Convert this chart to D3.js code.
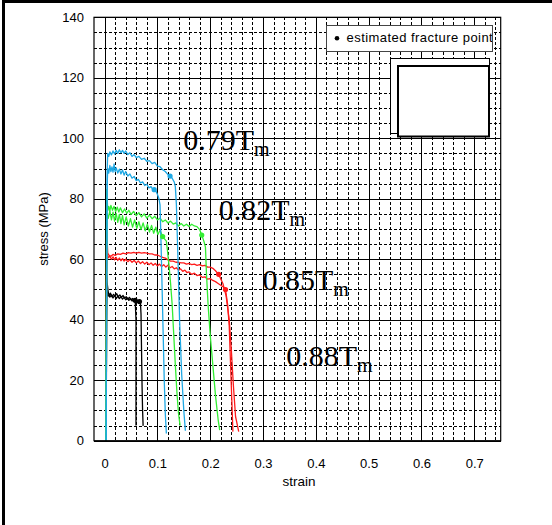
<!DOCTYPE html>
<html>
<head>
<meta charset="utf-8">
<script src="https://cdn.jsdelivr.net/npm/d3@7"></script>
<style>
body { margin: 0; background: #fff; }
svg { display: block; }
</style>
</head>
<body>
<div id="main"></div>
<script>
const w = 552, h = 525

// axis values
const xTicks = [0, 0.1, 0.2, 0.3, 0.4, 0.5, 0.6, 0.7]
const xTickLabels = ['0', '0.1', '0.2', '0.3', '0.4', '0.5', '0.6', '0.7']
const yTicks = [0, 20, 40, 60, 80, 100, 120, 140]

// stress-strain curves [strain, stress MPa]
const blueHigh = [[0.003,0],[0.004,60],[0.005,90],[0.006,95],[0.008,94],[0.010,95.5],[0.013,94.5],[0.016,95.8],[0.019,94.8],[0.022,96],[0.025,95],[0.028,96.2],[0.031,95.2],[0.034,96],[0.037,95],[0.040,95.8],[0.044,94.6],[0.048,95.2],[0.052,94],[0.056,94.6],[0.060,93.6],[0.065,94],[0.070,93],[0.075,93.4],[0.080,92.4],[0.085,92.6],[0.090,91.6],[0.095,92],[0.100,90.8],[0.105,90.6],[0.110,89.6],[0.115,89],[0.120,88],[0.124,87.5],[0.128,86.8],[0.132,85.5],[0.134,84],[0.136,78],[0.139,60],[0.142,40],[0.146,22],[0.150,10],[0.153,3.3]]
const blueLow = [[0.003,0],[0.004,50],[0.005,85],[0.006,90],[0.008,88.5],[0.010,91],[0.012,89],[0.014,90.5],[0.016,88.8],[0.018,91.5],[0.020,89],[0.022,90.2],[0.025,88.5],[0.028,89.8],[0.031,88.2],[0.034,89.5],[0.037,87.8],[0.040,89],[0.044,87.5],[0.048,88.2],[0.052,86.8],[0.056,87.4],[0.060,86],[0.064,86.4],[0.068,85.2],[0.072,85.6],[0.076,84.4],[0.080,84.8],[0.084,83.6],[0.088,84],[0.092,82.8],[0.096,83],[0.100,81.5],[0.103,80],[0.105,78],[0.107,65],[0.109,50],[0.111,35],[0.113,20],[0.115,9],[0.117,2.4]]
const greenHigh = [[0.002,0],[0.003,40],[0.004,83],[0.005,80],[0.006,76],[0.008,77.5],[0.010,76],[0.012,77.8],[0.015,76.2],[0.018,77.5],[0.021,75.8],[0.024,77.2],[0.027,75.6],[0.030,77],[0.034,75.4],[0.038,76.6],[0.042,75.2],[0.046,76.2],[0.050,74.8],[0.055,75.8],[0.060,74.4],[0.065,75.4],[0.070,74],[0.075,75],[0.080,73.6],[0.085,74.6],[0.090,73.4],[0.095,74.2],[0.100,73],[0.105,73.6],[0.110,72.4],[0.115,73],[0.120,72],[0.125,72.6],[0.130,71.6],[0.135,72],[0.140,71],[0.145,71.8],[0.150,71],[0.155,71.6],[0.160,70.8],[0.165,71.6],[0.170,71],[0.175,70.8],[0.180,69.8],[0.184,68],[0.188,66],[0.191,64],[0.193,55],[0.196,45],[0.200,35],[0.205,25],[0.210,15],[0.215,7],[0.218,3.5]]
const greenLow = [[0.003,0],[0.004,50],[0.005,75],[0.007,73.5],[0.010,76],[0.013,73],[0.016,75.6],[0.019,72.6],[0.022,75.2],[0.025,72.2],[0.028,74.8],[0.031,71.8],[0.034,74.4],[0.037,71.4],[0.041,74],[0.045,71],[0.049,73.4],[0.053,70.6],[0.057,73],[0.061,70.2],[0.065,72.4],[0.069,69.8],[0.073,72],[0.077,69.4],[0.081,71.6],[0.085,69],[0.089,71.2],[0.093,68.6],[0.097,70.6],[0.101,68.2],[0.105,69.6],[0.110,67.5],[0.113,66.8],[0.117,66],[0.119,63],[0.122,58],[0.125,52],[0.128,45],[0.131,35],[0.134,25],[0.137,16],[0.140,9],[0.143,5]]
const redHigh = [[0.002,0],[0.003,40],[0.004,70],[0.005,66],[0.006,62],[0.008,61.4],[0.012,61],[0.016,61.6],[0.020,61.3],[0.025,61.8],[0.030,61.6],[0.035,62],[0.040,61.8],[0.045,62.2],[0.050,62],[0.055,62.3],[0.060,62],[0.065,62.3],[0.070,62],[0.075,62.2],[0.080,62],[0.085,61.8],[0.090,61.8],[0.095,61.4],[0.100,61.4],[0.105,61],[0.110,60.6],[0.115,60.4],[0.120,59.8],[0.125,59.4],[0.130,59.4],[0.135,59],[0.140,59],[0.145,58.8],[0.150,58.8],[0.155,58.4],[0.160,58.6],[0.165,58.2],[0.170,58.4],[0.175,58],[0.180,58.2],[0.185,57.8],[0.190,58],[0.195,57.4],[0.200,57.4],[0.205,57],[0.210,56.2],[0.216,55],[0.224,52],[0.230,48],[0.236,40],[0.240,30],[0.244,18],[0.248,8],[0.254,3]]
const redLow = [[0.003,0],[0.004,55],[0.005,62],[0.007,60.5],[0.010,61],[0.013,60],[0.016,60.8],[0.019,59.8],[0.022,60.6],[0.025,59.6],[0.028,60.4],[0.031,59.5],[0.034,60.2],[0.037,59.4],[0.040,60],[0.044,59.2],[0.048,59.8],[0.052,59],[0.056,59.6],[0.060,58.8],[0.064,59.4],[0.068,58.6],[0.072,59.2],[0.076,58.4],[0.080,59],[0.084,58.2],[0.088,58.8],[0.092,58],[0.096,58.6],[0.100,57.8],[0.104,58.4],[0.108,57.6],[0.112,58.2],[0.116,57.4],[0.120,58],[0.124,57.2],[0.128,57.6],[0.132,56.8],[0.136,57.2],[0.140,56.4],[0.144,56.8],[0.148,56],[0.152,56.4],[0.156,55.6],[0.160,55.8],[0.165,55],[0.170,55.4],[0.175,54.6],[0.180,54.8],[0.185,54],[0.190,54.2],[0.195,53.4],[0.200,53.6],[0.205,53],[0.210,52.6],[0.215,52],[0.220,51.4],[0.225,50.8],[0.229,50],[0.233,45],[0.236,38],[0.238,28],[0.240,18],[0.242,8],[0.243,3]]
const blackLong = [[0.003,0],[0.004,45],[0.005,50],[0.007,48],[0.010,47.5],[0.013,48.2],[0.016,47.2],[0.019,48],[0.022,47],[0.025,47.8],[0.028,47],[0.031,47.6],[0.034,46.8],[0.037,47.4],[0.040,46.6],[0.043,47.2],[0.046,46.4],[0.049,47],[0.052,46.2],[0.055,46.8],[0.058,46],[0.061,46.4],[0.064,45.8],[0.066,46],[0.068,45.4],[0.069,42],[0.070,30],[0.071,18],[0.072,10],[0.073,4.9]]
const blackShort = [[0.002,0],[0.003,30],[0.004,55],[0.005,52],[0.007,49],[0.009,48],[0.011,48.8],[0.014,47.6],[0.017,48.4],[0.020,47.8],[0.023,48.6],[0.026,47.6],[0.029,48.2],[0.032,47.4],[0.035,48],[0.038,47.2],[0.041,47.6],[0.044,46.8],[0.047,47.4],[0.050,46.6],[0.053,47],[0.056,46.2],[0.058,46.4],[0.0595,40],[0.0595,20],[0.0595,5]]

// estimated fracture points [strain, stress]
const fractureBlue = [[0.124,87.5],[0.094,83]]
const fractureGreen = [[0.184,68],[0.110,67.5]]
const fractureRed = [[0.216,55],[0.229,50]]
const fractureBlack = [[0.066,46],[0.058,46.4]]

// temperature labels
const tempLabels = ['0.79', '0.82', '0.85', '0.88']
const tempLabelAt = [[0.149,96.2],[0.216,73],[0.299,49.8],[0.344,24.6]]

const colors = { blue: '#1ea8e4', green: '#33ee33', red: '#ff1a1a', black: '#000' }

const series = [
    { data: blackShort, color: colors.black },
    { data: blackLong, color: colors.black },
    { data: redLow, color: colors.red },
    { data: redHigh, color: colors.red },
    { data: greenLow, color: colors.green },
    { data: greenHigh, color: colors.green },
    { data: blueLow, color: colors.blue },
    { data: blueHigh, color: colors.blue }
]
const fractures = [
    { data: fractureBlack, color: colors.black },
    { data: fractureRed, color: colors.red },
    { data: fractureGreen, color: colors.green },
    { data: fractureBlue, color: colors.blue }
]

const pLeft = 94, pRight = 500.7, pTop = 17.3, pBottom = 440.7

const svg = d3.select('#main')
            .append('svg')
            .attr('width', w)
            .attr('height', h)

svg.append('rect').attr('width', w).attr('height', h).attr('fill', '#fff')

const xScale = d3.scaleLinear().domain([-0.02, 0.75]).range([pLeft, pRight])
const yScale = d3.scaleLinear().domain([0, 140]).range([pBottom, pTop])

// minor dashed grid
const grid = svg.append('g').attr('shape-rendering', 'crispEdges')
const xMinor = d3.range(0, 38).map(i => i * 0.02).filter((v, i) => i % 5 !== 0)
const yMinor = d3.range(1, 28).map(i => i * 5).filter(v => v % 20 !== 0)
grid.selectAll('.xminor')
    .data(xMinor)
    .enter()
    .append('line')
    .attr('x1', d => Math.round(xScale(d)) + 0.5)
    .attr('x2', d => Math.round(xScale(d)) + 0.5)
    .attr('y1', pTop)
    .attr('y2', pBottom)
    .attr('stroke', '#000')
    .attr('stroke-dasharray', '3,2')
grid.selectAll('.yminor')
    .data(yMinor)
    .enter()
    .append('line')
    .attr('x1', pLeft)
    .attr('x2', pRight)
    .attr('y1', d => Math.round(yScale(d)) + 0.5)
    .attr('y2', d => Math.round(yScale(d)) + 0.5)
    .attr('stroke', '#000')
    .attr('stroke-dasharray', '3,2')
// major solid grid
grid.selectAll('.xmajor')
    .data(xTicks)
    .enter()
    .append('line')
    .attr('x1', d => Math.round(xScale(d)) + 0.5)
    .attr('x2', d => Math.round(xScale(d)) + 0.5)
    .attr('y1', pTop)
    .attr('y2', pBottom)
    .attr('stroke', '#000')
grid.selectAll('.ymajor')
    .data(yTicks)
    .enter()
    .append('line')
    .attr('x1', pLeft)
    .attr('x2', pRight)
    .attr('y1', d => Math.round(yScale(d)) + 0.5)
    .attr('y2', d => Math.round(yScale(d)) + 0.5)
    .attr('stroke', '#000')

// curves
svg.append('clipPath').attr('id', 'plot')
    .append('rect')
    .attr('x', pLeft).attr('y', pTop)
    .attr('width', pRight - pLeft).attr('height', pBottom - pTop)

const line = d3.line()
            .x(d => xScale(d[0]))
            .y(d => yScale(d[1]))

const curves = svg.append('g').attr('clip-path', 'url(#plot)')
curves.selectAll('path')
    .data(series)
    .enter()
    .append('path')
    .attr('d', d => line(d.data))
    .attr('fill', 'none')
    .attr('stroke', d => d.color)
    .attr('stroke-width', 1.3)
    .attr('stroke-linejoin', 'round')

fractures.forEach(f => {
    curves.selectAll(null)
        .data(f.data)
        .enter()
        .append('circle')
        .attr('cx', d => xScale(d[0]))
        .attr('cy', d => yScale(d[1]))
        .attr('r', 2.6)
        .attr('fill', f.color)
})

// frame
svg.append('rect')
    .attr('x', pLeft).attr('y', pTop)
    .attr('width', pRight - pLeft).attr('height', pBottom - pTop)
    .attr('fill', 'none')
    .attr('stroke', '#000')
    .attr('stroke-width', 1.2)

// axes
const xAxis = d3.axisBottom(xScale)
                .tickValues(xTicks)
                .tickFormat((d, i) => xTickLabels[i])
                .tickSize(0)
                .tickPadding(18)
const xLine = svg.append('g')
                .attr('transform', 'translate(0,' + pBottom + ')')
                .call(xAxis)
xLine.select('.domain').remove()

const yAxis = d3.axisLeft(yScale)
                .tickValues(yTicks)
                .tickSize(0)
                .tickPadding(10)
const yLine = svg.append('g')
                .attr('transform', 'translate(' + pLeft + ',0)')
                .call(yAxis)
yLine.select('.domain').remove()

svg.selectAll('.tick text')
    .attr('font-family', 'Liberation Sans, Arial, sans-serif')
    .attr('font-size', 13)
    .attr('fill', '#000')

svg.append('text')
    .text('strain')
    .attr('x', 299)
    .attr('y', 486)
    .attr('text-anchor', 'middle')
    .attr('font-family', 'Liberation Sans, Arial, sans-serif')
    .attr('font-size', 13.5)

svg.append('text')
    .text('stress (MPa)')
    .attr('transform', 'translate(48,229) rotate(-90)')
    .attr('text-anchor', 'middle')
    .attr('font-family', 'Liberation Sans, Arial, sans-serif')
    .attr('font-size', 13)

// temperature labels
tempLabels.forEach((t, i) => {
    const label = svg.append('text')
        .attr('x', xScale(tempLabelAt[i][0]))
        .attr('y', yScale(tempLabelAt[i][1]))
        .attr('font-family', 'Liberation Serif, Times New Roman, serif')
        .attr('font-size', 30)
        .attr('fill', '#000')
    label.append('tspan').text(t + 'T')
    label.append('tspan').text('m').attr('font-size', 20).attr('dy', 6)
})

// legend box
const legend = svg.append('g')
legend.append('rect')
    .attr('x', 326).attr('y', 25).attr('width', 166).attr('height', 26)
    .attr('fill', '#fff')
legend.append('circle').attr('cx', 337).attr('cy', 38.3).attr('r', 2.3).attr('fill', '#000')
legend.append('text')
    .text('estimated fracture point')
    .attr('x', 346.5)
    .attr('y', 42)
    .attr('font-family', 'Liberation Sans, Arial, sans-serif')
    .attr('font-size', 13)
    .attr('letter-spacing', 0.45)
legend.append('rect')
    .attr('x', 326.5).attr('y', 25.5).attr('width', 166).attr('height', 26)
    .attr('fill', 'none')
    .attr('stroke', '#444')

// empty boxes
svg.append('rect')
    .attr('x', 390.5).attr('y', 58.5).attr('width', 99).attr('height', 75)
    .attr('fill', '#fff').attr('stroke', '#000')
svg.append('rect')
    .attr('x', 398).attr('y', 66).attr('width', 91).attr('height', 70.5)
    .attr('fill', '#fff').attr('stroke', '#000').attr('stroke-width', 2)

// outer frame
svg.append('rect').attr('x', 2).attr('y', 0).attr('width', 3).attr('height', h).attr('fill', '#000')
svg.append('rect').attr('x', 2).attr('y', 0).attr('width', w).attr('height', 3).attr('fill', '#000')
</script>
</body>
</html>
